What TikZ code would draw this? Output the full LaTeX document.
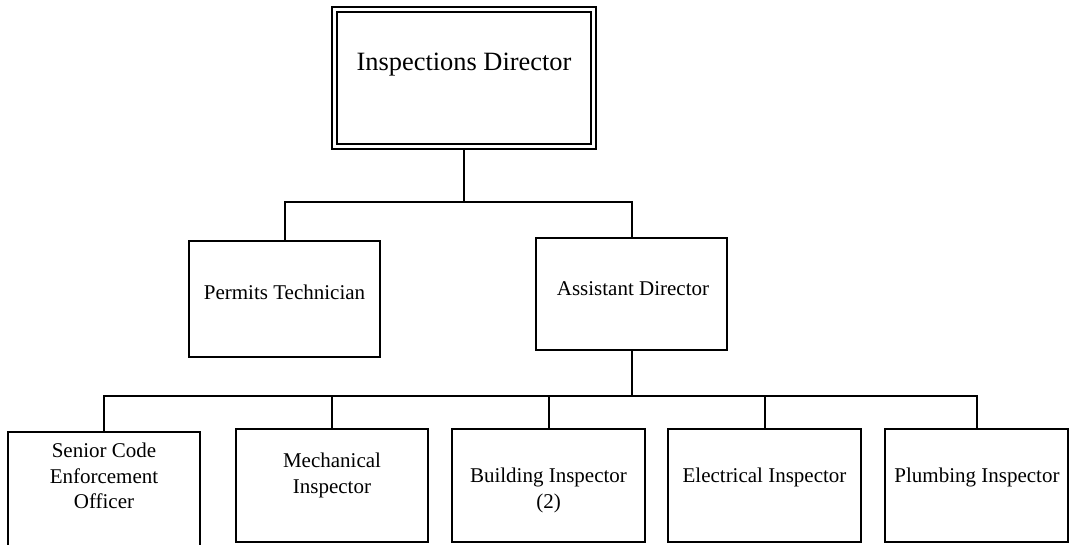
\documentclass[tikz,border=0pt]{standalone}
\usepackage{fontspec}
\setmainfont{Liberation Serif}

\tikzset{every picture/.style={line width=1.5pt}}
\tikzset{
  postbox/.style={draw, rectangle, inner sep=0pt, minimum width=144pt, minimum height=84.75pt},
  headbox/.style={postbox, line width=1.2pt, double, double distance=2.6pt, outer sep=2.5pt},
  headtext/.style={inner sep=0pt, font=\fontsize{19.8}{23.5}\selectfont},
  posttext/.style={inner sep=0pt, align=center, font=\fontsize{15.75}{19.1}\selectfont}
}

\begin{document}
\begin{tikzpicture}[x=0.75pt,y=0.75pt,yscale=-1,xscale=1]
%set diagram left start at 0, and has height of 544
\fill [white] (0,0) rectangle (1070,544);
\useasboundingbox (0,0) rectangle (1070,544);

%Shape: Double Rectangle
\node (director) [headbox, minimum width=194.25pt, minimum height=102.75pt] at (464,78) {};
%Shape: Rectangle
\node (permits) [postbox, minimum width=143.25pt, minimum height=87pt] at (284.5,298.5) {};
%Shape: Rectangle
\node (assist) [postbox, minimum width=143.25pt, minimum height=84pt] at (631.5,294) {};
%Shape: Rectangle
\node (senior) [postbox, minimum height=87pt] at (104,490) {};
%Shape: Rectangle
\node (mech) [postbox] at (332,485.5) {};
%Shape: Rectangle
\node (build) [postbox, minimum width=144.75pt] at (548.5,485.5) {};
%Shape: Rectangle
\node (elec) [postbox, minimum width=144.75pt] at (764.5,485.5) {};
%Shape: Rectangle
\node (plumb) [postbox, minimum width=137.25pt] at (976.5,485.5) {};

% Text Node
\node (directorT) [headtext, anchor=base] at (464,70) {Inspections Director};
% Text Node
\node (permitsT) [posttext, anchor=base] at (284.5,299) {Permits Technician};
% Text Node
\node (assistT) [posttext, anchor=base] at (633,295) {Assistant Director};
% Text Node
\node (seniorT) [posttext, anchor=north] at (104,439) {\strut Senior Code\\ Enforcement\\ Officer};
% Text Node
\node (mechT) [posttext, anchor=north] at (332,449) {\strut Mechanical\\ Inspector};
% Text Node
\node (buildT) [posttext, anchor=north] at (548.5,464) {\strut Building Inspector\\ (2)};
% Text Node
\node (elecT) [posttext, anchor=base] at (764.5,482) {Electrical Inspector};
% Text Node
\node (plumbT) [posttext, anchor=base] at (977,482) {Plumbing Inspector};

%Straight Lines
\coordinate (topbus) at (464,202);
\draw (director.south) -- (topbus);
\draw (permits.north) |- (topbus) -| (assist.north);

%Straight Lines
\coordinate (lowbus) at (631.5,396);
\draw (assist.south) -- (lowbus);
\draw (senior.north) |- (lowbus) -| (plumb.north);
\foreach \unit in {mech,build,elec}
  \draw (\unit.north) -- (\unit.north |- lowbus);

\end{tikzpicture}
\end{document}
